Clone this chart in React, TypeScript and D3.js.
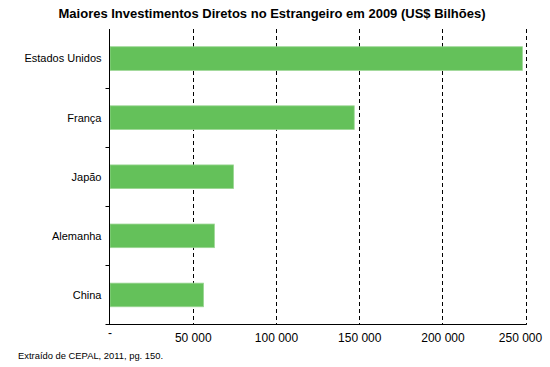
import { useEffect, useRef } from 'react';
import * as d3 from 'd3';

const countries = ['Estados Unidos', 'França', 'Japão', 'Alemanha', 'China'];
const investments = [248000, 147000, 74500, 63000, 56500];
const ticks = [0, 50000, 100000, 150000, 200000, 250000];

const title = 'Maiores Investimentos Diretos no Estrangeiro em 2009 (US$ Bilhões)';
const source = 'Extraído de CEPAL, 2011, pg. 150.';

function App() {
  const width = 550;
  const height = 367;
  const left = 109.5;
  const right = 525.7;
  const top = 29;
  const bottom = 324.5;
  const font = 'Liberation Sans, Arial, sans-serif';

  const svgRef = useRef<SVGSVGElement>(null);

  useEffect(() => {
    document.body.style.margin = '0';
    const svg = d3.select(svgRef.current);
    svg.selectAll('*').remove();

    const x = d3.scaleLinear().domain([0, 250000]).range([left, right]);
    const y = d3
      .scaleBand()
      .domain(countries)
      .range([top, bottom])
      .paddingInner(0.6)
      .paddingOuter(0.3);

    svg
      .append('text')
      .attr('x', 272)
      .attr('y', 18)
      .attr('text-anchor', 'middle')
      .attr('font-family', font)
      .attr('font-size', 13)
      .attr('font-weight', 'bold')
      .text(title);

    // dashed gridlines
    svg
      .append('g')
      .selectAll('line')
      .data(ticks.slice(1))
      .join('line')
      .attr('x1', (d) => Math.round(x(d)) + 0.5)
      .attr('x2', (d) => Math.round(x(d)) + 0.5)
      .attr('y1', top)
      .attr('y2', bottom)
      .attr('stroke', '#000')
      .attr('stroke-dasharray', '4,3');

    // bars
    svg
      .append('g')
      .selectAll('rect')
      .data(countries)
      .join('rect')
      .attr('x', left + 0.5)
      .attr('y', (d) => y(d)!)
      .attr('width', (d, i) => x(investments[i]) - left - 0.5)
      .attr('height', y.bandwidth())
      .attr('fill', '#64c15a')
      .attr('stroke', '#9bd693')
      .attr('stroke-width', 0.8);

    // y axis
    const yAxis = svg.append('g').attr('transform', `translate(${Math.round(left) - 0.5},0)`);
    yAxis
      .append('line')
      .attr('x1', 0)
      .attr('x2', 0)
      .attr('y1', top)
      .attr('y2', bottom)
      .attr('stroke', '#000');
    yAxis
      .selectAll('line.tick')
      .data(d3.range(1, countries.length))
      .join('line')
      .attr('class', 'tick')
      .attr('x1', -4)
      .attr('x2', 0)
      .attr('y1', (i) => Math.round(top + i * y.step()) + 0.5)
      .attr('y2', (i) => Math.round(top + i * y.step()) + 0.5)
      .attr('stroke', '#000');
    yAxis
      .selectAll('text')
      .data(countries)
      .join('text')
      .attr('x', -8)
      .attr('y', (d) => y(d)! + y.bandwidth() / 2)
      .attr('dy', '0.35em')
      .attr('text-anchor', 'end')
      .attr('font-family', font)
      .attr('font-size', 11)
      .text((d) => d);

    // x axis
    const xAxis = d3
      .axisBottom(x)
      .tickValues(ticks)
      .tickSize(0)
      .tickPadding(9)
      .tickFormat((d) => (d === 0 ? '-' : d3.format(',')(d as number).replace(/,/g, ' ')));
    const gx = svg
      .append('g')
      .attr('transform', `translate(0,${Math.round(bottom) - 0.5})`)
      .call(xAxis);
    gx.select('.domain').remove();
    gx.append('line')
      .attr('x1', Math.round(left) - 4.5)
      .attr('x2', right + 1)
      .attr('y1', 0)
      .attr('y2', 0)
      .attr('stroke', '#000');
    gx.selectAll('text').attr('font-family', font).attr('font-size', 12).attr('fill', '#000');
    // last label is pulled in so it stays inside the frame
    gx.selectAll<SVGTextElement, number>('text')
      .filter((d) => d === 250000)
      .attr('text-anchor', 'end')
      .attr('x', 16);
    gx.selectAll<SVGTextElement, number>('text')
      .filter((d) => d === 0)
      .attr('y', 4);

    svg
      .append('text')
      .attr('x', 18)
      .attr('y', 359)
      .attr('font-family', font)
      .attr('font-size', 9.4)
      .text(source);
  }, []);

  return <svg ref={svgRef} width={width} height={height} style={{ display: 'block', background: '#fff' }} />;
}

export default App;
